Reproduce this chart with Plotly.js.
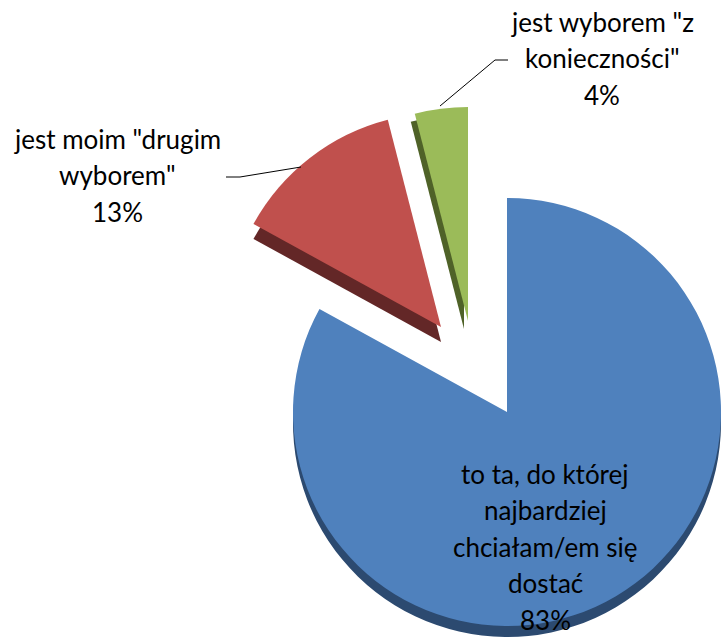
<!DOCTYPE html>
<html>
<head>
<meta charset="utf-8">
<script src="https://cdn.plot.ly/plotly-3.0.1.min.js"></script>
<style>
html,body{margin:0;padding:0;background:#fff;overflow:hidden;}
#chart{width:721px;height:637px;}
</style>
</head>
<body>
<div id="chart"></div>
<script>
// ---- data ----
const categories = [
  'to ta, do której najbardziej chciałam/em się dostać',
  'jest moim "drugim wyborem"',
  'jest wyborem "z konieczności"'
];
const values = [83, 13, 4];
const labelLines = [
  ['to ta, do której', 'najbardziej', 'chciałam/em się', 'dostać'],
  ['jest moim "drugim', 'wyborem"'],
  ['jest wyborem "z', 'konieczności"']
];
const faceColors = ['#4F81BD', '#C0504D', '#9BBB59'];
const sideColors = ['#2C4A70', '#632727', '#4F6228'];

// ---- layout helpers ----
const W = 721, H = 637;
const R = 214;
const centers = [[507, 412], [441, 327], [468, 321]];   // exploded slice positions
const depth = [[0, 11], [0, 15], [-4, 8]];             // 3D side offset
const labelPos = [[545, 484], [117, 149], [602, 32]];    // first line baseline
const lineStep = 36.5;
const FS = 26;

const px = x => x / W;
const py = y => 1 - y / H;
const total = values.reduce((a, b) => a + b, 0);

function sliceTrace(k, dx, dy, color) {
  const cx = centers[k][0] + dx, cy = centers[k][1] + dy;
  const cols = values.map((v, i) => i === k ? color : 'rgba(0,0,0,0)');
  return {
    type: 'pie',
    labels: categories,
    values: values,
    sort: false,
    direction: 'clockwise',
    rotation: 0,
    textinfo: 'none',
    hoverinfo: 'none',
    showlegend: false,
    marker: {colors: cols, line: {width: 0}},
    domain: {
      x: [px(cx - R), px(cx + R)],
      y: [py(cy + R), py(cy - R)]
    }
  };
}

const traces = [];
values.forEach((v, k) => traces.push(sliceTrace(k, depth[k][0], depth[k][1], sideColors[k])));
values.forEach((v, k) => traces.push(sliceTrace(k, 0, 0, faceColors[k])));

const annotations = [];
values.forEach((v, k) => {
  const lines = labelLines[k].concat([Math.round(v / total * 100) + '%']);
  lines.forEach((t, j) => {
    const base = labelPos[k][1] + j * lineStep;
    annotations.push({
      xref: 'paper', yref: 'paper',
      x: px(labelPos[k][0]), y: py(base - 0.39 * FS),
      xanchor: 'center', yanchor: 'middle',
      text: t, showarrow: false,
      font: {family: 'Lato, "Open Sans", sans-serif', size: FS, color: '#000'}
    });
  });
});

const leader = pts => 'M ' + pts.map(p => px(p[0]) + ' ' + py(p[1])).join(' L ');
const shapes = [
  {type: 'path', xref: 'paper', yref: 'paper', path: leader([[440, 106], [495, 60], [508, 60]]), line: {color: '#000', width: 1}},
  {type: 'path', xref: 'paper', yref: 'paper', path: leader([[301, 167], [240, 177], [226, 177]]), line: {color: '#000', width: 1}}
];

const layout = {
  width: W, height: H,
  margin: {l: 0, r: 0, t: 0, b: 0},
  paper_bgcolor: '#fff',
  plot_bgcolor: '#fff',
  showlegend: false,
  annotations: annotations,
  shapes: shapes
};

Plotly.newPlot('chart', traces, layout, {displayModeBar: false, staticPlot: true});
</script>
</body>
</html>
